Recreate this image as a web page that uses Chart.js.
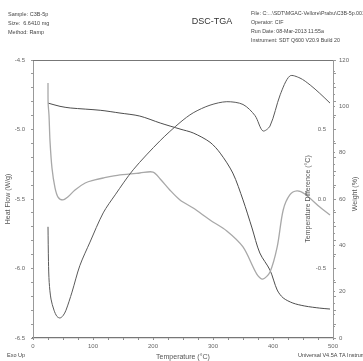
<!DOCTYPE html>
<html>
<head>
<meta charset="utf-8">
<script src="https://cdn.jsdelivr.net/npm/chart.js@4.4.1/dist/chart.umd.min.js"></script>
<style>
  html, body { margin: 0; padding: 0; background: #fff; }
  #wrap { width: 363px; height: 361px; }
</style>
</head>
<body>
<div id="wrap"><canvas id="mychart" width="363" height="361"></canvas></div>
<script>
// heat flow (W/g) - dark curve, left axis
var hfTemp = [25, 25.8, 27, 30, 35, 40, 45, 50, 55, 65, 78, 95, 117, 137, 167, 212, 245, 267, 295, 323, 350, 370, 383, 395, 412, 428, 445, 462, 478, 495];
var hfVal  = [-5.70, -5.95, -6.10, -6.22, -6.30, -6.345, -6.356, -6.34, -6.30, -6.17, -5.98, -5.81, -5.60, -5.47, -5.29, -5.08, -4.95, -4.88, -4.825, -4.80, -4.82, -4.90, -5.01, -4.975, -4.75, -4.615, -4.63, -4.68, -4.74, -4.81];

// temperature difference (°C) - light curve, right axis (inner)
var tdTemp = [25, 25.2, 26.7, 28.3, 31.7, 36.7, 41.7, 50, 58, 70, 87, 103, 117, 145, 178, 200, 212, 228, 245, 267, 295, 323, 350, 373, 383, 395, 407, 417, 428, 440, 453, 478, 495];
var tdVal  = [0.835, 0.69, 0.60, 0.42, 0.22, 0.08, 0.014, -0.007, 0.014, 0.065, 0.115, 0.137, 0.151, 0.173, 0.187, 0.194, 0.144, 0.065, -0.007, -0.065, -0.151, -0.23, -0.345, -0.54, -0.576, -0.525, -0.345, -0.079, 0.029, 0.058, 0.036, -0.058, -0.115];

// weight (%) - right axis (outer)
var wtTemp = [25, 45, 62, 112, 145, 178, 212, 245, 267, 295, 312, 333, 350, 365, 378, 395, 407, 417, 433, 453, 478, 495];
var wtVal  = [101.4, 100.0, 99.3, 98.3, 97.1, 95.8, 92.8, 90.2, 88.5, 84.5, 79.8, 71.2, 59.6, 47.5, 36.7, 29.3, 20.7, 17.3, 15.1, 13.8, 12.9, 12.5];

var xTicks = [0, 100, 200, 300, 400, 500];
var tdTicks = [0.5, 0.0, -0.5];

function pts(xs, ys) {
  var out = [];
  for (var i = 0; i < xs.length; i++) out.push({x: xs[i], y: ys[i]});
  return out;
}
function near(v, step) {
  return Math.abs(v / step - Math.round(v / step)) < 1e-6;
}

var FONT = "'Liberation Sans', Arial, sans-serif";
var tickFont = {family: FONT, size: 6};

var textPlugin = {
  id: 'texts',
  afterDraw: function(chart) {
    var ctx = chart.ctx, a = chart.chartArea;
    ctx.save();
    // top frame line
    ctx.strokeStyle = '#777';
    ctx.lineWidth = 1.2;
    ctx.beginPath();
    ctx.moveTo(a.left, a.top + 0.5);
    ctx.lineTo(a.right, a.top + 0.5);
    ctx.stroke();

    // temperature difference labels, inside the plot next to the right axis
    var td = chart.scales.yTD;
    ctx.font = '6px ' + FONT;
    ctx.fillStyle = '#666';
    ctx.textAlign = 'right';
    ctx.textBaseline = 'middle';
    tdTicks.forEach(function(v) {
      ctx.fillText(v.toFixed(1), a.right - 7, td.getPixelForValue(v));
    });

    ctx.fillStyle = '#444';
    ctx.textAlign = 'left';
    ctx.font = '5.5px ' + FONT;
    ctx.fillText('Sample: C3B-5p', 8, 14);
    ctx.fillText('Size:  6.6410 mg', 8, 23);
    ctx.fillText('Method: Ramp', 8, 32);

    ctx.font = '5.3px ' + FONT;
    ctx.fillText('File: C:...\\SDT\\MGAC-Vellore\\Prabu\\C3B-5p.001', 251, 14);
    ctx.fillText('Operator: CIF', 251, 23);
    ctx.fillText('Run Date: 08-Mar-2013 11:55a', 251, 32);
    ctx.fillText('Instrument: SDT Q600 V20.9 Build 20', 251, 41);

    ctx.font = '5.5px ' + FONT;
    ctx.fillText('Exo Up', 7, 355);
    ctx.fillText('Universal V4.5A TA Instruments', 298, 355);

    ctx.textAlign = 'center';
    ctx.font = '9px ' + FONT;
    ctx.fillStyle = '#333';
    ctx.fillText('DSC-TGA', 212, 22);

    ctx.font = '7px ' + FONT;
    ctx.fillStyle = '#555';
    var cy = (a.top + a.bottom) / 2;
    ctx.translate(a.right - 25, cy);
    ctx.rotate(-Math.PI / 2);
    ctx.fillText('Temperature Difference (°C)', 0, 0);
    ctx.restore();

    ctx.save();
    ctx.font = '7px ' + FONT;
    ctx.fillStyle = '#555';
    ctx.textAlign = 'center';
    ctx.textBaseline = 'middle';
    ctx.translate(355, cy - 5);
    ctx.rotate(-Math.PI / 2);
    ctx.fillText('Weight (%)', 0, 0);
    ctx.restore();
  }
};

var mychart = document.getElementById('mychart').getContext('2d');
var chart = new Chart(mychart, {
  type: 'line',
  data: {
    datasets: [
      {
        label: 'Heat Flow',
        data: pts(hfTemp, hfVal),
        yAxisID: 'yHF',
        borderColor: '#5a5a5a',
        borderWidth: 1,
        pointRadius: 0,
        tension: 0.3,
        fill: false
      },
      {
        label: 'Temperature Difference',
        data: pts(tdTemp, tdVal),
        yAxisID: 'yTD',
        borderColor: '#a8a8a8',
        borderWidth: 1.3,
        pointRadius: 0,
        tension: 0.3,
        fill: false
      },
      {
        label: 'Weight',
        data: pts(wtTemp, wtVal),
        yAxisID: 'yWT',
        borderColor: '#4d4d4d',
        borderWidth: 1,
        pointRadius: 0,
        tension: 0.3,
        fill: false
      }
    ]
  },
  options: {
    responsive: false,
    animation: false,
    layout: {padding: {left: 0, top: 60, right: 0, bottom: 0}},
    plugins: {legend: {display: false}, tooltip: {enabled: false}},
    scales: {
      x: {
        type: 'linear',
        position: 'bottom',
        min: 0, max: 500,
        afterFit: function(s) { s.height = 23; },
        border: {display: true, color: '#777', width: 1.2},
        grid: {drawOnChartArea: false, drawTicks: true, tickLength: 2, color: '#888'},
        ticks: {
          stepSize: 25, autoSkip: false, maxRotation: 0, padding: 3,
          font: tickFont, color: '#666',
          callback: function(v) { return xTicks.indexOf(v) >= 0 ? String(v) : ''; }
        },
        title: {display: true, text: 'Temperature (°C)', font: {family: FONT, size: 7}, color: '#555', padding: {top: 0, bottom: 0}}
      },
      yHF: {
        type: 'linear',
        position: 'left',
        min: -6.5, max: -4.5,
        afterFit: function(s) { s.width = 33; },
        border: {display: true, color: '#999', width: 1},
        grid: {drawOnChartArea: false, drawTicks: true, tickLength: 2, color: '#999'},
        ticks: {
          stepSize: 0.1, autoSkip: false, padding: 6,
          font: tickFont, color: '#666',
          callback: function(v) { return near(v, 0.5) ? v.toFixed(1) : ''; }
        },
        title: {display: true, text: 'Heat Flow (W/g)', font: {family: FONT, size: 7}, color: '#555', padding: {top: 4, bottom: 0}}
      },
      yTD: {
        type: 'linear',
        position: 'right',
        weight: 0,
        min: -1, max: 1,
        afterFit: function(s) { s.width = 0; },
        border: {display: true, color: '#999', width: 1},
        grid: {drawOnChartArea: false, drawTicks: true, tickLength: 3, color: '#999'},
        ticks: {
          stepSize: 0.1, autoSkip: false,
          font: tickFont, color: '#666',
          callback: function() { return ''; }
        }
      },
      yWT: {
        type: 'linear',
        position: 'right',
        weight: 1,
        min: 0, max: 120,
        afterFit: function(s) { s.width = 30; },
        border: {display: true, color: '#999', width: 1},
        grid: {drawOnChartArea: false, drawTicks: true, tickLength: 2, color: '#999'},
        ticks: {
          stepSize: 5, autoSkip: false, padding: 4,
          font: tickFont, color: '#666',
          callback: function(v) { return near(v, 20) ? String(v) : ''; }
        }
      }
    }
  },
  plugins: [textPlugin]
});
</script>
</body>
</html>
